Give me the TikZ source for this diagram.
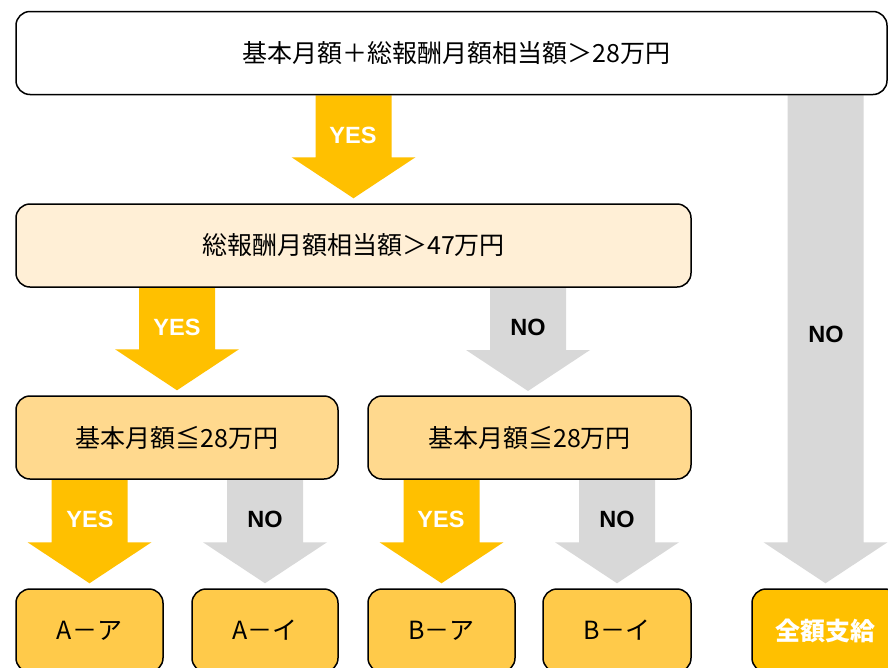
\documentclass[tikz,border=0pt]{standalone}
\usepackage{fontspec}
\setmainfont{Noto Sans CJK JP}
\newfontfamily\latinb{Liberation Sans}
\usetikzlibrary{calc,backgrounds}
\definecolor{yesc}{HTML}{FFC000}
\definecolor{noc}{HTML}{D8D8D8}
\definecolor{lvtwo}{HTML}{FFEFD6}
\definecolor{lvthree}{HTML}{FFD98E}
\definecolor{lvfour}{HTML}{FFCA4A}
\tikzset{
  box/.style={draw=black, line width=1.5pt, rounded corners=14pt, minimum height=83pt,
    inner sep=0pt, font=\fontsize{25}{29}\selectfont, text=black},
  yeslbl/.style={font=\latinb\bfseries\fontsize{23.5}{27}\selectfont, text=white, inner sep=0pt},
  nolbl/.style={font=\latinb\bfseries\fontsize{23.5}{27}\selectfont, text=black, inner sep=0pt}
}
\newcommand{\fatarrow}[3]{%
  \fill[#1] let \p1=(#2), \p2=(#3) in
    (\x1-38pt,\y1) -- (\x1+38pt,\y1) -- (\x1+38pt,\y2+46pt) -- (\x1+62pt,\y2+46pt)
    -- (\x1,\y2+5pt) -- (\x1-62pt,\y2+46pt) -- (\x1-38pt,\y2+46pt) -- cycle;}
\begin{document}
\begin{tikzpicture}[x=1pt,y=-1pt]
\useasboundingbox (0,0) rectangle (888,667);
\clip (0,0) rectangle (888,667);
% boxes
\node[box, fill=white, minimum width=871pt] (top) at (451.5,53) {};
\node[font=\fontsize{25}{29}\selectfont] (toptext) at (456.5,53) {基本月額＋総報酬月額相当額＞28万円};
\node[box, fill=lvtwo, minimum width=675pt] (b2) at (353.5,245.5) {総報酬月額相当額＞47万円};
\node[box, fill=lvthree, minimum width=322pt] (b3l) at (177,437.5) {基本月額≦28万円};
\node[box, fill=lvthree, minimum width=323pt] (b3r) at (529.5,437.5) {基本月額≦28万円};
\node[box, fill=lvfour, minimum width=147pt] (aa) at (89.5,630.5) {A－ア};
\node[box, fill=lvfour, minimum width=146pt] (ai) at (265,630.5) {A－イ};
\node[box, fill=lvfour, minimum width=147pt] (ba) at (441.5,630.5) {B－ア};
\node[box, fill=lvfour, minimum width=148pt] (bi) at (617,630.5) {B－イ};
\node[box, fill=yesc, minimum width=147pt, text=white, font=\bfseries\fontsize{25}{29}\selectfont] (full) at (825.5,630.5) {全額支給};
% arrows
\begin{pgfonlayer}{background}
\fill[white] (0,0) rectangle (888,667);
\fatarrow{yesc}{top.south -| b2.north}{b2.north}
\fatarrow{noc}{top.south -| full.north}{full.north}
\fatarrow{yesc}{b2.south -| b3l.north}{b3l.north}
\fatarrow{noc}{b2.south -| 528,0}{528,396}
\fatarrow{yesc}{b3l.south -| aa.north}{aa.north}
\fatarrow{noc}{b3l.south -| ai.north}{ai.north}
\fatarrow{yesc}{b3r.south -| ba.north}{ba.north}
\fatarrow{noc}{b3r.south -| bi.north}{bi.north}
\end{pgfonlayer}
% labels
\node[yeslbl] (y1) at (353,135) {YES};
\node[nolbl] (n1) at (826,334) {NO};
\node[yeslbl] (y2) at (177,327) {YES};
\node[nolbl] (n2) at (528,327) {NO};
\node[yeslbl] (y3) at (90,519) {YES};
\node[nolbl] (n3) at (265,519) {NO};
\node[yeslbl] (y4) at (441,519) {YES};
\node[nolbl] (n4) at (617,519) {NO};
\end{tikzpicture}
\end{document}
